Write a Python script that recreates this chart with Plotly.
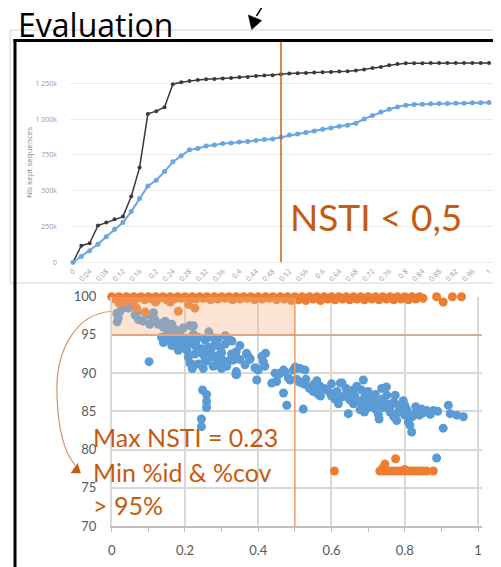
import plotly.graph_objects as go

W, H = 501, 567
OX, OY = 8, 8  # page body margin compensation
def px(x): return (x - OX) / W
def py(y): return 1 - (y - OY) / H

# ---------------- top chart data ----------------
nsti = [0, 0.02, 0.04, 0.06, 0.08, 0.1, 0.12, 0.14, 0.16, 0.18, 0.2, 0.22, 0.24, 0.26, 0.28,
        0.3, 0.32, 0.34, 0.36, 0.38, 0.4, 0.42, 0.44, 0.46, 0.48, 0.5, 0.52, 0.54, 0.56, 0.58,
        0.6, 0.62, 0.64, 0.66, 0.68, 0.7, 0.72, 0.74, 0.76, 0.78, 0.8, 0.82, 0.84, 0.86, 0.88,
        0.9, 0.92, 0.94, 0.96, 0.98, 1]
all_k = [0, 116, 133, 256, 277, 300, 319, 459, 661, 1036, 1055, 1083, 1243, 1257, 1266, 1273,
         1278, 1280, 1283, 1287, 1292, 1294,
         1301, 1304, 1306, 1313, 1318, 1320, 1322, 1325, 1327, 1329, 1332, 1334, 1339, 1346,
         1357, 1364, 1376, 1385, 1390, 1390, 1390, 1391, 1391, 1391, 1391, 1391, 1392, 1392, 1392]
kept_k = [0, 40, 81, 126, 179, 230, 277, 354, 445, 533, 573, 633, 701, 743, 785, 794, 812,
          819, 829, 833, 840, 843,
          850, 857, 861, 873, 889, 896, 906, 917, 929, 938, 950, 957, 971, 1001, 1024, 1050,
          1068, 1085, 1096, 1101, 1103, 1106, 1108, 1108, 1110, 1110, 1113, 1113, 1115]
top_xtick_vals = [0, 0.04, 0.08, 0.12, 0.16, 0.2, 0.24, 0.28, 0.32, 0.36, 0.4, 0.44, 0.48,
                  0.52, 0.56, 0.6, 0.64, 0.68, 0.72, 0.76, 0.8, 0.84, 0.88, 0.92, 0.96, 1]
top_xtick_text = ["0", "0.04", "0.08", "0.12", "0.16", "0.2", "0.24", "0.28", "0.32", "0.36",
                  "0.4", "0.44", "0.48", "0.52", "0.56", "0.6", "0.64", "0.68", "0.72", "0.76",
                  "0.8", "0.84", "0.88", "0.92", "0.96", "1"]
top_ytick_vals = [0, 250, 500, 750, 1000, 1250]
top_ytick_text = ["0", "250k", "500k", "750k", "1 000k", "1 250k"]

# ---------------- scatter data ----------------
blue_pts = [
    (0.014, 97.8), (0.015, 96.7), (0.018, 97.2), (0.023, 98.1), (0.032, 98.6), (0.045, 98.5),
    (0.059, 98.8), (0.064, 97.6), (0.068, 97.9), (0.073, 97.0), (0.086, 96.8), (0.095, 97.6),
    (0.104, 96.4), (0.113, 97.0), (0.114, 97.9), (0.118, 97.0), (0.127, 96.4), (0.14, 96.6),
    (0.141, 96.0), (0.146, 96.8), (0.158, 96.2), (0.164, 96.4), (0.173, 95.7), (0.177, 95.5),
    (0.186, 95.5), (0.195, 95.9), (0.213, 96.2), (0.223, 96.2), (0.159, 95.3), (0.223, 95.1),
    (0.136, 94.7), (0.141, 94.0), (0.155, 94.3), (0.164, 93.6), (0.177, 94.0), (0.191, 93.8),
    (0.182, 93.0), (0.205, 93.0), (0.209, 92.1), (0.227, 92.5), (0.236, 94.7), (0.255, 94.3),
    (0.264, 93.4), (0.245, 93.2), (0.273, 94.7), (0.218, 91.2), (0.236, 91.2), (0.255, 91.7),
    (0.273, 92.1), (0.282, 91.0), (0.309, 91.2), (0.327, 92.5), (0.323, 94.3), (0.296, 93.4),
    (0.214, 91.3), (0.25, 90.6), (0.277, 90.9), (0.314, 90.9), (0.332, 91.7), (0.37, 92.4),
    (0.15, 95.0), (0.17, 94.8), (0.19, 94.6), (0.2, 94.2), (0.21, 94.6), (0.22, 93.8),
    (0.23, 93.5), (0.24, 92.8), (0.25, 92.4), (0.26, 92.8), (0.27, 93.0), (0.28, 93.6),
    (0.29, 92.3), (0.3, 92.7), (0.31, 93.8), (0.23, 94.2), (0.2, 93.4), (0.185, 94.4),
    (0.26, 91.6), (0.29, 91.4), (0.3, 91.9), (0.32, 91.6), (0.34, 92.8), (0.35, 93.6),
    (0.29, 94.5), (0.31, 94.9), (0.265, 95.4), (0.22, 90.6), (0.3, 90.6), (0.34, 90.2),
    (0.102, 91.5), (0.339, 89.8), (0.248, 87.8), (0.259, 87.2), (0.259, 86.3), (0.259, 85.5),
    (0.245, 84.0), (0.245, 83.0),
    (0.328, 94.2), (0.337, 92.6), (0.35, 91.8), (0.368, 92.6), (0.377, 91.8), (0.364, 91.1),
    (0.391, 90.7), (0.414, 91.5), (0.418, 90.9), (0.4, 90.4), (0.341, 89.8), (0.396, 89.1),
    (0.437, 88.7), (0.455, 89.8), (0.473, 90.2), (0.496, 90.4), (0.514, 90.6), (0.528, 90.4),
    (0.45, 88.9), (0.482, 89.4), (0.505, 89.2), (0.519, 88.7), (0.551, 88.5), (0.569, 88.3),
    (0.624, 88.7), (0.378, 91.9), (0.396, 90.6), (0.446, 90.0), (0.46, 90.0), (0.469, 90.4),
    (0.501, 90.8), (0.487, 89.1), (0.51, 88.9), (0.528, 88.5), (0.469, 87.4), (0.478, 85.8),
    (0.523, 85.3), (0.41, 92.2), (0.42, 92.6),
    (0.564, 87.2), (0.588, 87.8), (0.596, 87.4), (0.615, 87.6), (0.629, 88.7), (0.619, 86.0),
    (0.646, 84.7), (0.642, 87.4), (0.664, 87.0), (0.669, 88.3), (0.687, 89.1), (0.682, 87.8),
    (0.696, 87.4), (0.682, 86.1), (0.7, 85.5), (0.678, 85.2), (0.714, 86.8), (0.728, 86.1),
    (0.737, 88.0), (0.751, 87.1), (0.742, 85.5), (0.728, 84.6), (0.76, 84.9), (0.774, 87.1),
    (0.783, 85.8), (0.796, 86.4), (0.805, 85.3), (0.778, 83.8), (0.8, 84.5), (0.814, 83.2),
    (0.819, 82.3), (0.832, 84.9), (0.846, 85.3), (0.86, 85.1), (0.878, 85.1), (0.905, 82.8),
    (0.919, 85.8), (0.924, 84.7), (0.942, 84.5), (0.96, 84.3), (0.887, 78.9),
    (0.58, 88.0), (0.6, 87.0), (0.61, 86.6), (0.63, 86.9), (0.65, 86.5), (0.66, 86.0),
    (0.67, 86.4), (0.69, 86.8), (0.7, 86.2), (0.71, 85.8), (0.72, 85.3), (0.73, 85.8),
    (0.74, 86.6), (0.75, 86.0), (0.76, 85.6), (0.77, 86.2), (0.78, 84.8), (0.79, 85.2),
    (0.8, 85.8), (0.81, 84.8), (0.82, 84.3), (0.83, 85.6), (0.84, 84.5), (0.85, 84.8),
    (0.87, 84.6), (0.89, 85.0), (0.7, 87.6), (0.72, 87.2), (0.75, 88.2), (0.66, 87.8),
    (0.64, 88.0), (0.55, 87.6), (0.57, 87.0), (0.54, 88.0), (0.53, 89.2), (0.56, 89.0),
    (0.6, 88.6), (0.69, 84.9), (0.73, 84.0), (0.81, 83.6), (0.77, 84.3),
]
blue_x = [p[0] for p in blue_pts]
blue_y = [p[1] for p in blue_pts]

orange_pts = [
    (0.0, 100.0), (0.01, 99.7), (0.02, 100.0), (0.03, 99.6), (0.04, 100.0), (0.05, 99.7),
    (0.06, 100.0), (0.07, 99.8), (0.08, 100.0), (0.09, 99.6), (0.1, 100.0), (0.11, 99.7),
    (0.12, 100.0), (0.13, 99.8), (0.14, 100.0), (0.15, 99.6), (0.16, 100.0), (0.17, 99.7),
    (0.18, 100.0), (0.19, 99.8), (0.2, 100.0), (0.21, 99.6), (0.22, 100.0), (0.23, 99.7),
    (0.24, 100.0), (0.25, 99.8), (0.26, 100.0), (0.27, 99.6), (0.28, 100.0), (0.29, 99.7),
    (0.3, 100.0), (0.31, 99.8), (0.32, 100.0), (0.33, 99.6), (0.34, 100.0), (0.35, 99.7),
    (0.36, 100.0), (0.37, 99.8), (0.38, 100.0), (0.39, 99.6), (0.4, 100.0), (0.41, 99.7),
    (0.42, 100.0), (0.43, 99.8), (0.44, 100.0), (0.45, 99.6), (0.46, 100.0), (0.47, 99.7),
    (0.48, 100.0), (0.49, 99.5), (0.5, 100.0), (0.51, 99.6), (0.52, 100.0), (0.53, 99.5),
    (0.54, 100.0), (0.55, 99.7), (0.56, 100.0), (0.57, 99.5), (0.58, 100.0), (0.59, 99.7),
    (0.6, 100.0), (0.61, 99.6), (0.62, 100.0), (0.63, 99.7), (0.64, 100.0), (0.65, 99.6),
    (0.66, 100.0), (0.67, 99.7), (0.68, 100.0), (0.69, 99.6), (0.7, 100.0), (0.71, 99.7),
    (0.72, 100.0), (0.73, 99.6), (0.74, 100.0), (0.75, 99.7), (0.76, 100.0), (0.77, 99.6),
    (0.78, 100.0), (0.79, 99.7), (0.8, 100.0), (0.81, 99.6), (0.82, 100.0), (0.83, 99.7),
    (0.84, 100.0), (0.85, 99.8), (0.887, 100.0), (0.905, 99.3), (0.93, 100.0), (0.955, 100.0),
    (0.068, 98.5), (0.091, 98.0), (0.182, 98.1), (0.227, 98.5), (0.21, 99.0), (0.02, 99.2),
    (0.04, 99.3), (0.06, 99.4), (0.12, 99.3), (0.16, 99.3),
    (0.608, 77.2), (0.732, 77.2), (0.74, 77.2), (0.75, 77.2), (0.76, 77.2), (0.77, 77.2),
    (0.78, 77.2), (0.79, 77.2), (0.8, 77.2), (0.81, 77.2), (0.82, 77.2), (0.83, 77.2),
    (0.84, 77.2), (0.85, 77.2), (0.86, 77.2), (0.878, 77.2), (0.746, 78.1), (0.775, 78.8),
    (0.74, 77.6), (0.8, 77.4),
]
orange_x = [p[0] for p in orange_pts]
orange_y = [p[1] for p in orange_pts]

BROWN = "#C55A11"
BLUE = "#5B9BD5"
ORANGE = "#ED7D31"

fig = go.Figure()

# top chart traces
fig.add_trace(go.Scatter(x=nsti, y=all_k, mode="lines+markers", xaxis="x", yaxis="y",
                         line=dict(color="#3a3a3a", width=1.5),
                         marker=dict(color="#3a3a3a", size=4), showlegend=False))
fig.add_trace(go.Scatter(x=nsti, y=kept_k, mode="lines+markers", xaxis="x", yaxis="y",
                         line=dict(color="#6AA6E0", width=2),
                         marker=dict(color="#6AA6E0", size=5), showlegend=False))

# scatter traces
fig.add_trace(go.Scatter(x=blue_x, y=blue_y, mode="markers", xaxis="x2", yaxis="y2",
                         marker=dict(color=BLUE, size=9), cliponaxis=False, showlegend=False))
fig.add_trace(go.Scatter(x=orange_x, y=orange_y, mode="markers", xaxis="x2", yaxis="y2",
                         marker=dict(color=ORANGE, size=9), cliponaxis=False, showlegend=False))

small = dict(family="Open Sans", size=7, color="#9a9a9a")
tickf = dict(family="Lato", size=13, color="#595959")

fig.update_layout(
    width=W, height=H, autosize=False,
    margin=dict(l=0, r=0, t=0, b=0),
    paper_bgcolor="white", plot_bgcolor="white",
    xaxis=dict(domain=[px(70), px(495)], range=[-0.0072, 1.0144],
               tickvals=top_xtick_vals, ticktext=top_xtick_text, tickangle=-45,
               tickfont=small, showgrid=False, zeroline=False, showline=False, ticks="",
               automargin=False),
    yaxis=dict(domain=[py(265), py(45)], range=[-19, 1517],
               tickvals=top_ytick_vals, ticktext=top_ytick_text, tickfont=small,
               showgrid=True, gridcolor="#ececec", gridwidth=1, zeroline=False,
               showline=False, ticks="", ticklabelstandoff=12, automargin=False),
    xaxis2=dict(domain=[px(111.7), px(481.7)], range=[0, 1.0101], anchor="y2",
                tick0=0, dtick=0.2, tickfont=tickf,
                showgrid=True, gridcolor="#d9d9d9", gridwidth=2, zeroline=False,
                showline=True, linecolor="#bfbfbf", linewidth=1.5,
                ticks="outside", ticklen=4, tickcolor="#bfbfbf",
                minor=dict(dtick=0.1, ticks="outside", ticklen=4, tickcolor="#bfbfbf",
                           showgrid=False),
                ticklabelstandoff=8, automargin=False),
    yaxis2=dict(domain=[py(526), py(296.7)], range=[70, 100], anchor="x2",
                tick0=70, dtick=5, tickfont=tickf,
                showgrid=True, gridcolor="#d9d9d9", gridwidth=2, zeroline=False,
                showline=True, linecolor="#d9d9d9", linewidth=1.5, ticks="",
                ticklabelstandoff=11, automargin=False),
)

shapes = []
# grey slide box around top chart
shapes.append(dict(type="rect", xref="paper", yref="paper", x0=px(10), x1=px(494.5),
                   y0=py(283), y1=py(30), line=dict(color="#d4d4d4", width=1), layer="below"))
# black frame
shapes.append(dict(type="line", xref="paper", yref="paper", x0=px(13.5), x1=px(520),
                   y0=py(40.5), y1=py(40.5), line=dict(color="black", width=3)))
shapes.append(dict(type="line", xref="paper", yref="paper", x0=px(15), x1=px(15),
                   y0=py(39), y1=py(590), line=dict(color="black", width=3)))
# NSTI 0.5 line, top chart
shapes.append(dict(type="line", xref="x", yref="paper", x0=0.5, x1=0.5,
                   y0=py(262), y1=py(42), line=dict(color="#C0651E", width=1.5)))
# highlighted region in scatter
shapes.append(dict(type="rect", xref="x2", yref="y2", x0=0, x1=0.5, y0=95, y1=100,
                   fillcolor="#F4B183", opacity=0.35, line=dict(width=0), layer="above"))
shapes.append(dict(type="line", xref="x2", yref="y2", x0=0, x1=1.0101, y0=95, y1=95,
                   line=dict(color="#C9B0A0", width=2), layer="above"))
shapes.append(dict(type="line", xref="x2", yref="y2", x0=0, x1=0.5, y0=95, y1=95,
                   line=dict(color="#F0A070", width=1.5), layer="above"))
shapes.append(dict(type="line", xref="x2", yref="y2", x0=0.5, x1=0.5, y0=70, y1=100,
                   line=dict(color="#F09A60", width=1.5), layer="above"))

def P(x, y):
    return f"{px(x):.5f},{py(y):.5f}"

# top arrow
shapes.append(dict(type="path", xref="paper", yref="paper",
                   path=f"M {P(268, -2)} Q {P(262, 7)} {P(256.5, 16)}",
                   line=dict(color="black", width=1.5)))
shapes.append(dict(type="path", xref="paper", yref="paper",
                   path=f"M {P(248.3, 15)} L {P(261.7, 20.5)} L {P(251.7, 29.5)} Z",
                   fillcolor="black", line=dict(color="black", width=0.5)))
# curved arrow in scatter
shapes.append(dict(type="path", xref="paper", yref="paper",
                   path=f"M {P(111, 311.5)} C {P(80, 313)} {P(55, 345)} {P(57, 395)} "
                        f"C {P(58, 430)} {P(64, 452)} {P(75, 465)}",
                   line=dict(color="#D9946A", width=1.2)))
shapes.append(dict(type="path", xref="paper", yref="paper",
                   path=f"M {P(71, 473)} L {P(80.5, 473)} L {P(77.5, 463.5)} Z",
                   fillcolor=BROWN, line=dict(color=BROWN, width=0.5)))
fig.update_layout(shapes=shapes)

ann = []
ann.append(dict(text="Evaluation", xref="paper", yref="paper", x=px(16), y=py(25),
                xanchor="left", yanchor="middle", showarrow=False,
                font=dict(family="Open Sans", size=32, color="black")))
ann.append(dict(text="Nb kept sequences", xref="paper", yref="paper", x=px(28), y=py(163),
                xanchor="center", yanchor="middle", showarrow=False, textangle=-90,
                font=dict(family="Open Sans", size=8, color="#8a8a8a")))
ann.append(dict(text="NSTI < 0,5", xref="paper", yref="paper", x=px(288), y=py(216),
                xanchor="left", yanchor="middle", showarrow=False,
                font=dict(family="Lato", size=37, color=BROWN)))
for txt, yc in [("Max NSTI = 0.23", 437), ("Min %id & %cov", 472), ("> 95%", 505)]:
    ann.append(dict(text=txt, xref="paper", yref="paper", x=px(91), y=py(yc),
                    xanchor="left", yanchor="middle", showarrow=False,
                    font=dict(family="Lato", size=25, color=BROWN)))
fig.update_layout(annotations=ann)

fig.write_html("out.html")
